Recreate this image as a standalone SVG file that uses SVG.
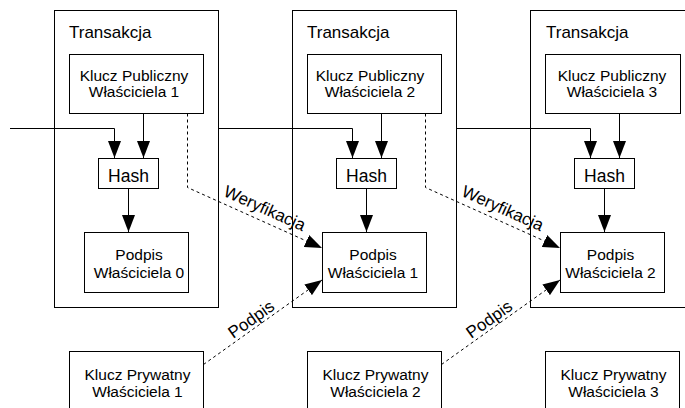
<svg xmlns="http://www.w3.org/2000/svg" width="685" height="408" viewBox="0 0 685 408">
<style>
.box{fill:#fff;stroke:#000;stroke-width:1}
.tx{fill:none;stroke:#000;stroke-width:1}
.t{font-family:"Liberation Sans",Arial,sans-serif;fill:#000}
.lbl{font-size:15.5px;text-anchor:middle}
.ttl{font-size:17px}
.hash{font-size:17.5px;text-anchor:middle}
.el{font-size:17px;text-anchor:middle}
.ln{fill:none;stroke:#000;stroke-width:1}
.dash{fill:none;stroke:#000;stroke-width:1;stroke-dasharray:3,3}
</style>
<defs>
<marker id="ah" markerUnits="userSpaceOnUse" markerWidth="17" markerHeight="13" refX="17" refY="6.5" orient="auto">
<path d="M0,0 L17,6.5 L0,13 z" fill="#000"/>
</marker>
</defs>
<rect width="685" height="408" fill="#fff"/>

<g id="tx1"><rect class="tx" x="54.5" y="10.5" width="164" height="297"/><text class="t ttl" x="69" y="37.5">Transakcja</text></g>
<g id="tx2"><rect class="tx" x="292.5" y="10.5" width="164" height="297"/><text class="t ttl" x="307" y="37.5">Transakcja</text></g>
<g id="tx3"><rect class="tx" x="530.5" y="10.5" width="164" height="297"/><text class="t ttl" x="546" y="37.5">Transakcja</text></g>

<g id="pk1"><rect class="box" x="69.5" y="54.5" width="134" height="59"/><text class="t lbl" x="134" y="80.5">Klucz Publiczny</text><text class="t lbl" x="134" y="96.5">Właściciela 1</text></g>
<g id="pk2"><rect class="box" x="307.5" y="54.5" width="134" height="59"/><text class="t lbl" x="370" y="80.5">Klucz Publiczny</text><text class="t lbl" x="370" y="96.5">Właściciela 2</text></g>
<g id="pk3"><rect class="box" x="545.5" y="54.5" width="135" height="59"/><text class="t lbl" x="612" y="80.5">Klucz Publiczny</text><text class="t lbl" x="612" y="96.5">Właściciela 3</text></g>

<g id="hash1"><rect class="box" x="98.5" y="158.5" width="60" height="30"/><text class="t hash" x="128.5" y="181.5">Hash</text></g>
<g id="hash2"><rect class="box" x="336.5" y="158.5" width="60" height="30"/><text class="t hash" x="366.5" y="181.5">Hash</text></g>
<g id="hash3"><rect class="box" x="574.5" y="158.5" width="60" height="30"/><text class="t hash" x="604.5" y="181.5">Hash</text></g>

<g id="sig0"><rect class="box" x="84.5" y="232.5" width="104" height="60"/><text class="t lbl" x="139" y="260">Podpis</text><text class="t lbl" x="139" y="278">Właściciela 0</text></g>
<g id="sig1"><rect class="box" x="322.5" y="232.5" width="104" height="60"/><text class="t lbl" x="373" y="260">Podpis</text><text class="t lbl" x="373" y="278">Właściciela 1</text></g>
<g id="sig2"><rect class="box" x="560.5" y="232.5" width="104" height="60"/><text class="t lbl" x="610.5" y="260">Podpis</text><text class="t lbl" x="610.5" y="278">Właściciela 2</text></g>

<g id="priv1"><rect class="box" x="69.5" y="351.5" width="134" height="62"/><text class="t lbl" x="137.5" y="380">Klucz Prywatny</text><text class="t lbl" x="137.5" y="397">Właściciela 1</text></g>
<g id="priv2"><rect class="box" x="307.5" y="351.5" width="134" height="62"/><text class="t lbl" x="375.5" y="380">Klucz Prywatny</text><text class="t lbl" x="375.5" y="397">Właściciela 2</text></g>
<g id="priv3"><rect class="box" x="545.5" y="351.5" width="134" height="62"/><text class="t lbl" x="613.5" y="380">Klucz Prywatny</text><text class="t lbl" x="613.5" y="397">Właściciela 3</text></g>

<g id="connectors">
<path class="ln" d="M10,128.5 H114.5 V158" marker-end="url(#ah)"/>
<path class="ln" d="M218.5,128.5 H352.5 V158" marker-end="url(#ah)"/>
<path class="ln" d="M456.5,128.5 H590.5 V158" marker-end="url(#ah)"/>
<path class="ln" d="M143.5,113.5 V158" marker-end="url(#ah)"/>
<path class="ln" d="M381.5,113.5 V158" marker-end="url(#ah)"/>
<path class="ln" d="M619.5,113.5 V158" marker-end="url(#ah)"/>
<path class="ln" d="M128.5,188.5 V232" marker-end="url(#ah)"/>
<path class="ln" d="M366.5,188.5 V232" marker-end="url(#ah)"/>
<path class="ln" d="M604.5,188.5 V232" marker-end="url(#ah)"/>
<path class="dash" d="M187.5,113.5 V187.5 L322,248" marker-end="url(#ah)"/>
<path class="dash" d="M425.5,113.5 V187.5 L560,248" marker-end="url(#ah)"/>
<path class="dash" d="M203.5,364.5 L322,280" marker-end="url(#ah)"/>
<path class="dash" d="M441.5,364.5 L560,280" marker-end="url(#ah)"/>
<text class="t el" transform="translate(262.5,213.5) rotate(24.3)">Weryfikacja</text>
<text class="t el" transform="translate(500.5,213.5) rotate(24.3)">Weryfikacja</text>
<text class="t el" transform="translate(254.5,324) rotate(-35.4)">Podpis</text>
<text class="t el" transform="translate(492.5,324) rotate(-35.4)">Podpis</text>
</g>
</svg>
